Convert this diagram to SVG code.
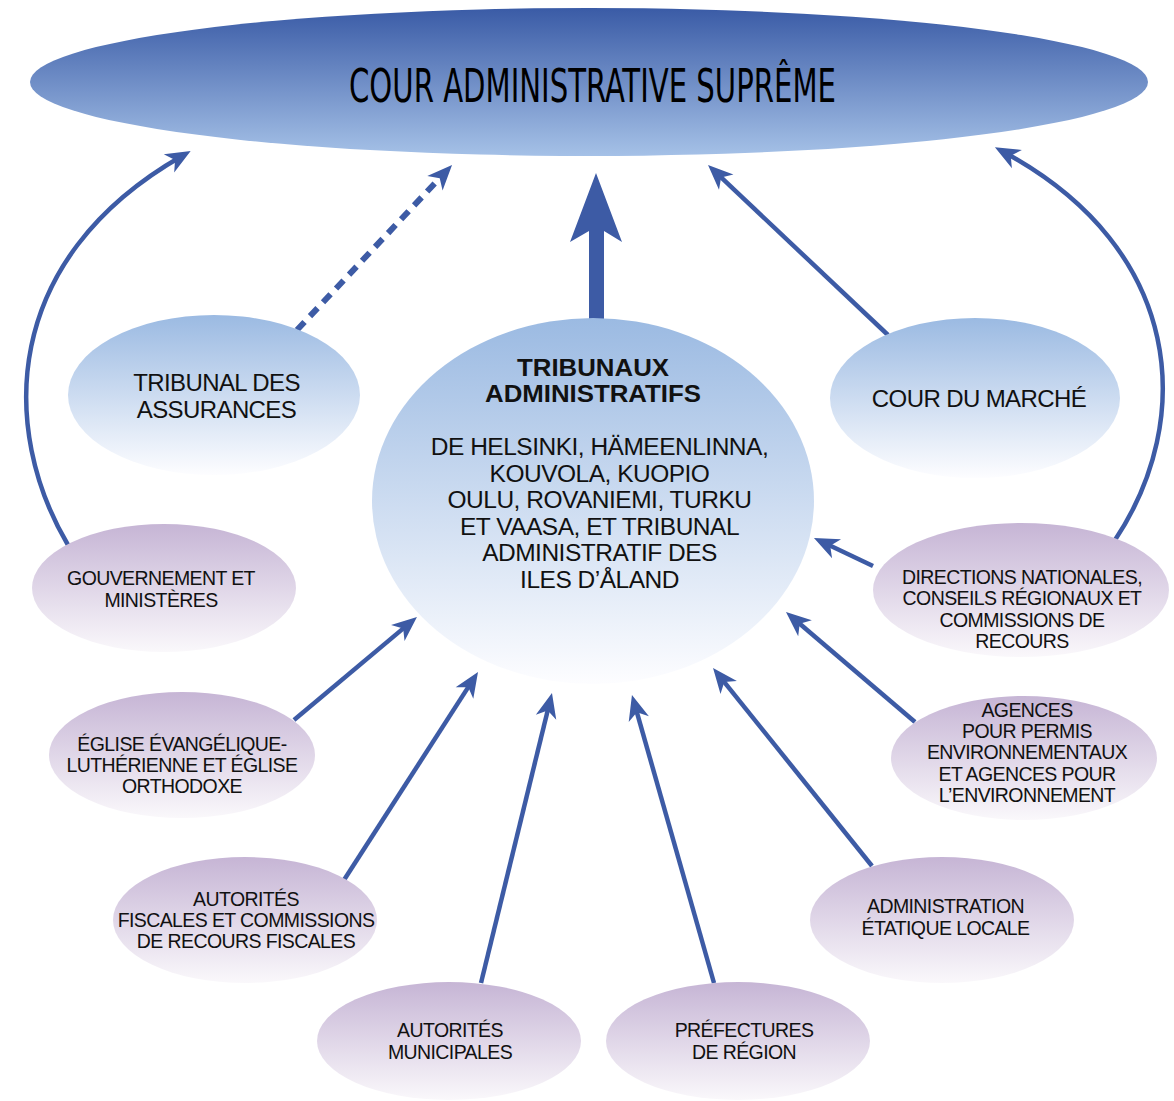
<svg xmlns="http://www.w3.org/2000/svg" width="1174" height="1101" viewBox="0 0 1174 1101">
<defs>
<linearGradient id="gTop" x1="0" y1="0" x2="0" y2="1">
<stop offset="0" stop-color="#3a5ba6"/>
<stop offset="1" stop-color="#a5c1e7"/>
</linearGradient>
<linearGradient id="gBlue" x1="0" y1="0" x2="0" y2="1">
<stop offset="0" stop-color="#9bbae2"/>
<stop offset="1" stop-color="#fdfdff"/>
</linearGradient>
<linearGradient id="gPurple" x1="0" y1="0" x2="0" y2="1">
<stop offset="0" stop-color="#c6b5d5"/>
<stop offset="1" stop-color="#faf8fb"/>
</linearGradient>
<marker id="ah" markerUnits="userSpaceOnUse" markerWidth="40" markerHeight="40" viewBox="-20 -20 40 40" refX="0" refY="0" orient="auto">
<path d="M10,0 L-15,-10.5 L-8,0 L-15,10.5 Z" fill="#3d5ba5"/>
</marker>
</defs>
<style>
.conn{fill:none;stroke:#3d5ba5;stroke-width:4.5;marker-end:url(#ah)}
.dash{fill:none;stroke:#3d5ba5;stroke-width:6;stroke-dasharray:11 8;marker-end:url(#ah)}
.blue{fill:url(#gBlue)}
.purple{fill:url(#gPurple)}
text{font-family:"Liberation Sans",Arial,sans-serif;fill:#111;text-anchor:middle}
.t24{font-size:24px;letter-spacing:-0.6px}
.t24b{font-size:24.5px;letter-spacing:-0.5px}
.tb{font-size:23.5px;font-weight:bold}
.t20{font-size:19.5px;letter-spacing:-0.6px}
.title{font-family:"DejaVu Sans Condensed","Liberation Sans Narrow","Liberation Sans",sans-serif;font-size:46px;fill:#000}
</style>

<g id="connectors">
<path class="conn" d="M68,545 C0,430 0,260 182,156"/>
<path class="dash" d="M297,330 L445.2,172.3"/>
<polygon points="596,173 622,242 604,231 604,321 589,321 589,231 570,242" fill="#3d5ba5"/>
<path class="conn" d="M888,335 L715.3,171.9"/>
<path class="conn" d="M1115,540 C1195,420 1185,250 1003.7,152"/>
<path class="conn" d="M873,566 L823,542.3"/>
<path class="conn" d="M915,722 L793.6,618.5"/>
<path class="conn" d="M872,866 L719.3,675.8"/>
<path class="conn" d="M714,983 L634.7,704.6"/>
<path class="conn" d="M481,983 L549.6,702.7"/>
<path class="conn" d="M344,880 L472.6,680.4"/>
<path class="conn" d="M294,720 L409.3,623.4"/>
</g>

<g id="cour-supreme">
<ellipse cx="589" cy="82" rx="559" ry="74" fill="url(#gTop)"/>
<text class="title" x="592.5" y="102" textLength="487" lengthAdjust="spacingAndGlyphs">COUR ADMINISTRATIVE SUPRÊME</text>
</g>

<g id="tribunal-assurances">
<ellipse class="blue" cx="214" cy="395" rx="146" ry="80"/>
<text class="t24" x="216.5" y="391">TRIBUNAL DES</text>
<text class="t24" x="216.5" y="418">ASSURANCES</text>
</g>

<g id="cour-marche">
<ellipse class="blue" cx="975" cy="398" rx="145" ry="80"/>
<text class="t24" x="979" y="407">COUR DU MARCHÉ</text>
</g>

<g id="tribunaux-administratifs">
<ellipse class="blue" cx="593" cy="501" rx="221" ry="183"/>
<text class="tb" x="593" y="376" textLength="152" lengthAdjust="spacingAndGlyphs">TRIBUNAUX</text>
<text class="tb" x="593" y="402" textLength="216" lengthAdjust="spacingAndGlyphs">ADMINISTRATIFS</text>
<text class="t24b" x="599.5" y="455">DE HELSINKI, HÄMEENLINNA,</text>
<text class="t24b" x="599.5" y="481.5">KOUVOLA, KUOPIO</text>
<text class="t24b" x="599.5" y="508">OULU, ROVANIEMI, TURKU</text>
<text class="t24b" x="599.5" y="534.5">ET VAASA, ET TRIBUNAL</text>
<text class="t24b" x="599.5" y="561">ADMINISTRATIF DES</text>
<text class="t24b" x="599.5" y="587.5">ILES D’ÅLAND</text>
</g>

<g id="gouvernement">
<ellipse class="purple" cx="164" cy="588" rx="132" ry="64"/>
<text class="t20" x="161" y="585">GOUVERNEMENT ET</text>
<text class="t20" x="161" y="607">MINISTÈRES</text>
</g>

<g id="eglise">
<ellipse class="purple" cx="182" cy="755" rx="133" ry="63"/>
<text class="t20" x="182" y="751">ÉGLISE ÉVANGÉLIQUE-</text>
<text class="t20" x="182" y="772">LUTHÉRIENNE ET ÉGLISE</text>
<text class="t20" x="182" y="793">ORTHODOXE</text>
</g>

<g id="autorites-fiscales">
<ellipse class="purple" cx="245" cy="920" rx="132" ry="63"/>
<text class="t20" x="246" y="906">AUTORITÉS</text>
<text class="t20" x="246" y="927">FISCALES ET COMMISSIONS</text>
<text class="t20" x="246" y="948">DE RECOURS FISCALES</text>
</g>

<g id="autorites-municipales">
<ellipse class="purple" cx="449" cy="1041" rx="132" ry="59"/>
<text class="t20" x="450" y="1037">AUTORITÉS</text>
<text class="t20" x="450" y="1059">MUNICIPALES</text>
</g>

<g id="prefectures">
<ellipse class="purple" cx="738" cy="1041" rx="132" ry="59"/>
<text class="t20" x="744" y="1037">PRÉFECTURES</text>
<text class="t20" x="744" y="1059">DE RÉGION</text>
</g>

<g id="administration-locale">
<ellipse class="purple" cx="942" cy="920" rx="132" ry="63"/>
<text class="t20" x="945.5" y="913">ADMINISTRATION</text>
<text class="t20" x="945.5" y="935">ÉTATIQUE LOCALE</text>
</g>

<g id="agences">
<ellipse class="purple" cx="1024" cy="758" rx="133" ry="62"/>
<text class="t20" x="1027" y="717">AGENCES</text>
<text class="t20" x="1027" y="738">POUR PERMIS</text>
<text class="t20" x="1027" y="759">ENVIRONNEMENTAUX</text>
<text class="t20" x="1027" y="781">ET AGENCES POUR</text>
<text class="t20" x="1027" y="802">L’ENVIRONNEMENT</text>
</g>

<g id="directions">
<ellipse class="purple" cx="1021" cy="590" rx="148" ry="67"/>
<text class="t20" x="1022" y="584">DIRECTIONS NATIONALES,</text>
<text class="t20" x="1022" y="605">CONSEILS RÉGIONAUX ET</text>
<text class="t20" x="1022" y="627">COMMISSIONS DE</text>
<text class="t20" x="1022" y="648">RECOURS</text>
</g>
</svg>
